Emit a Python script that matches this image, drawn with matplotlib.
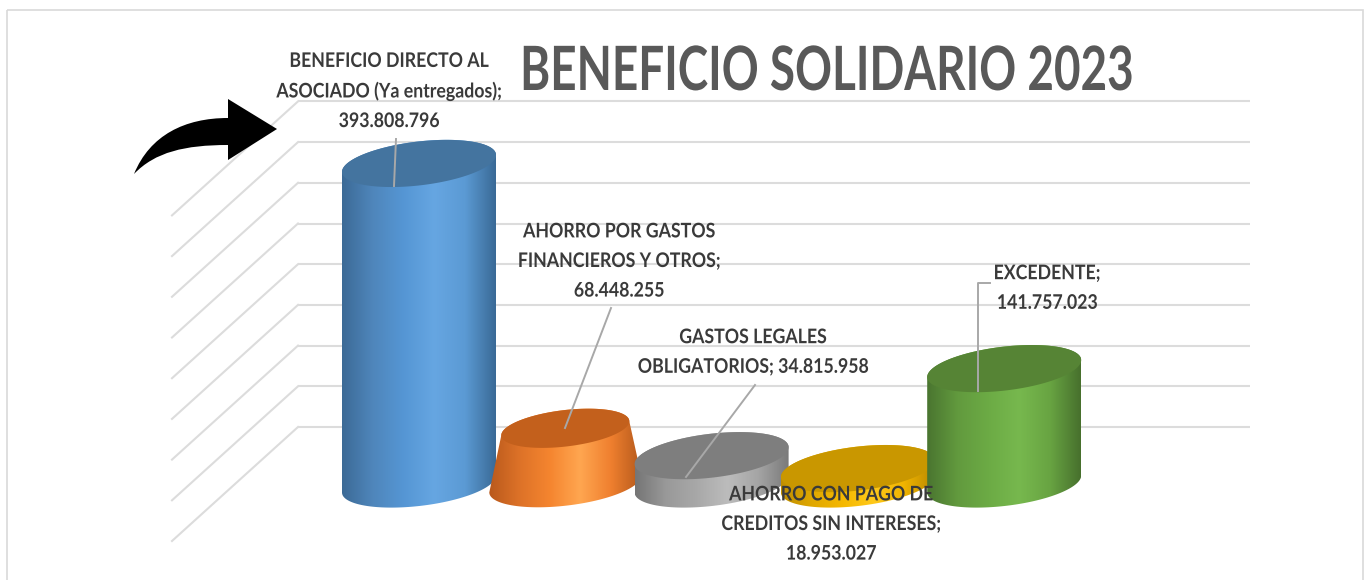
import matplotlib
matplotlib.use("Agg")
import matplotlib.pyplot as plt
import numpy as np
from matplotlib.colors import LinearSegmentedColormap
from matplotlib.patches import PathPatch, Polygon, Rectangle
from matplotlib.path import Path
from matplotlib.patheffects import AbstractPathEffect
from matplotlib.transforms import Affine2D

plt.rcParams['font.family'] = ['Lato', 'DejaVu Sans']

# data
categories = ["BENEFICIO DIRECTO AL\nASOCIADO (Ya entregados);",
              "AHORRO POR GASTOS\nFINANCIEROS Y OTROS;",
              "GASTOS LEGALES\nOBLIGATORIOS;",
              "AHORRO CON PAGO DE\nCREDITOS SIN INTERESES;",
              "EXCEDENTE;"]
values = [393808796, 68448255, 34815958, 18953027, 141757023]
value_labels = ["393.808.796", "68.448.255", "34.815.958", "18.953.027", "141.757.023"]
grid_values = [0, 50e6, 100e6, 150e6, 200e6, 250e6, 300e6, 350e6, 400e6]

# scales: one category step and one peso, in pixels
PX_CAT = 146.3
PX_VAL = 0.814e-6
X0 = 419
WALL_Y = 427
BASE_DROP = 57 / PX_VAL
SKEW = 0.11
FLAT = 0.286

top_half = [77, 64, 77, 77, 77]
base_half = [77, 76, 77, 77, 77]
side_colors = [
    ['#3c6a96', '#4f86bb', '#5596d4', '#66a6e2', '#5b9ad4', '#3a6a96'],
    ['#b9591c', '#dd7228', '#f5852f', '#ffa650', '#f0802f', '#b65a1c'],
    ['#757575', '#999999', '#a8a8a8', '#bcbcbc', '#a5a5a5', '#7a7a7a'],
    ['#c08e00', '#e0a800', '#f5b800', '#ffc91a', '#f0b400', '#b98800'],
    ['#4a7530', '#629a3e', '#6cab45', '#77b84e', '#68a442', '#47702d'],
]
top_colors = ['#44749f', '#c3601c', '#7e7e7e', '#c99700', '#568435']

fig = plt.figure(figsize=(13.69, 5.8), dpi=100)
ax = fig.add_axes([0, 0, 1, 1])
over = fig.add_axes([0, 0, 1, 1])
over.patch.set_alpha(0)
over.set_xlim(0, 1369)
over.set_ylim(580, 0)
over.axis('off')
ax.axis('off')


# the reference font is narrower than anything installed, squeeze glyphs sideways
class Squeeze(AbstractPathEffect):
    def __init__(self, cx, sx):
        super().__init__()
        self.cx = cx
        self.sx = sx

    def draw_path(self, renderer, gc, tpath, affine, rgbFace=None):
        squeeze = Affine2D().translate(-self.cx, 0).scale(self.sx, 1).translate(self.cx, 0)
        renderer.draw_path(gc, tpath, affine + squeeze, rgbFace)


def label(x, y, s, size=14.5, color='#3a3a3a', sx=0.88):
    t = over.text(x, y, s, ha='center', va='center', color=color, fontsize=size,
                  fontweight='bold', linespacing=1.6)
    t.set_path_effects([Squeeze(x, sx)])


def ellipse(cx, cy, half, t):
    dx = half * np.cos(t)
    dy = SKEW * dx + half * FLAT * np.sin(t)
    return cx + dx / PX_CAT, cy + dy / PX_VAL


# floor and wall lines
x_wall = (298 - X0) / PX_CAT
x_right = (1250 - X0) / PX_CAT
x_front = (172 - X0) / PX_CAT
ax.hlines(grid_values, x_wall, x_right, color='#dcdcdc', lw=1.5, zorder=1)
for g in grid_values:
    ax.plot([x_wall, x_front], [g, g - 114 / PX_VAL], color='#dcdcdc', lw=1.5, zorder=1)

# cylinders
for i, v in enumerate(values):
    t_up = np.linspace(np.pi, 0, 120)
    t_down = np.linspace(0, -np.pi, 120)
    bottom = -BASE_DROP
    top = bottom + v
    x1, y1 = ellipse(i, top, top_half[i], t_up)
    x2, y2 = ellipse(i, bottom, base_half[i], t_down)
    outline = np.column_stack([np.r_[x1, x2], np.r_[y1, y2]])
    side = Polygon(outline, closed=True, fc='none', ec='none', zorder=3 + i)
    ax.add_patch(side)
    cmap = LinearSegmentedColormap.from_list('side%d' % i, side_colors[i])
    w = max(top_half[i], base_half[i]) / PX_CAT
    im = ax.imshow(np.linspace(0, 1, 256).reshape(1, -1), cmap=cmap, aspect='auto',
                   extent=[i - w, i + w, bottom - 40 / PX_VAL, top + 40 / PX_VAL],
                   zorder=3 + i, interpolation='bilinear')
    im.set_clip_path(side)
    x3, y3 = ellipse(i, top, top_half[i], np.linspace(0, 2 * np.pi, 200))
    ax.fill(x3, y3, color=top_colors[i], lw=0, zorder=3 + i)

ax.set_xlim((0 - X0) / PX_CAT, (1369 - X0) / PX_CAT)
ax.set_ylim((WALL_Y - 580) / PX_VAL, WALL_Y / PX_VAL)

# frame
over.add_patch(Rectangle((7, 10), 1356, 600, fc='none', ec='#d9d9d9', lw=1.2))

# leader lines
lc = '#a8a8a8'
over.plot([396, 394], [139, 186], color=lc, lw=1.4)
over.plot([611, 565], [308, 428], color=lc, lw=1.4)
over.plot([755, 686], [385, 477], color=lc, lw=1.4)
over.plot([990, 978, 978], [283, 283, 391], color=lc, lw=1.4)

# labels
label(389, 91, categories[0] + "\n" + value_labels[0])
label(619, 261, categories[1] + "\n" + value_labels[1])
label(753, 352, categories[2] + " " + value_labels[2])
label(831, 524, categories[3] + "\n" + value_labels[3])
label(1047, 288, categories[4] + "\n" + value_labels[4])

label(827, 72, "BENEFICIO SOLIDARIO 2023", size=44, color='#595959', sx=0.75)

# curved arrow
arrow_verts = [(134, 174), (150, 135), (185, 118), (228, 118), (228, 99), (277, 129),
               (228, 160), (228, 145), (185, 145), (155, 152), (134, 174)]
arrow_codes = [Path.MOVETO, Path.CURVE4, Path.CURVE4, Path.CURVE4, Path.LINETO, Path.LINETO,
               Path.LINETO, Path.LINETO, Path.CURVE4, Path.CURVE4, Path.CURVE4]
over.add_patch(PathPatch(Path(arrow_verts, arrow_codes), fc='black', ec='none'))

fig.savefig('out.png', dpi=100)
